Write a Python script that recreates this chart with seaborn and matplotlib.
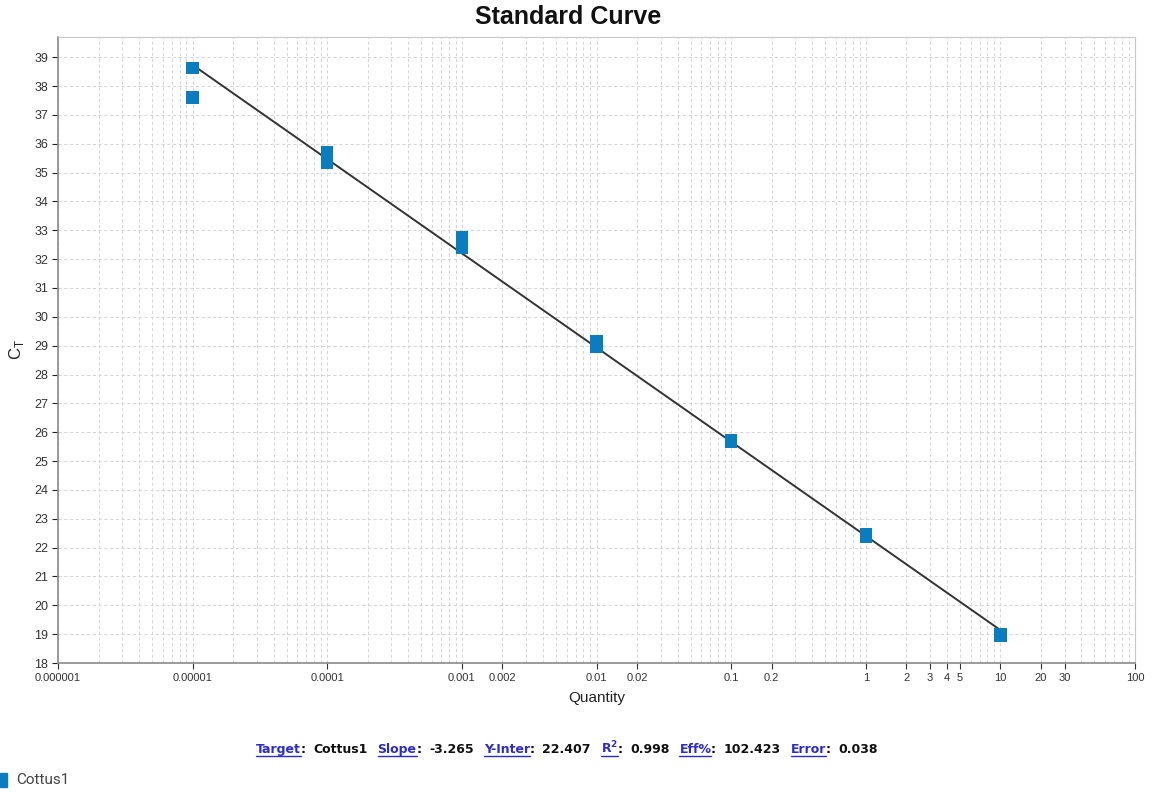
import numpy as np
import pandas as pd
import matplotlib
matplotlib.use("Agg")
import matplotlib.pyplot as plt
import seaborn as sns
from matplotlib.ticker import FixedLocator, FixedFormatter, LogLocator, NullFormatter

# Standard dilution series (replicate Ct values per quantity)
quantities = [1e-5, 1e-5, 1e-4, 1e-4, 1e-4, 1e-3, 1e-3, 1e-2, 1e-2, 1e-1, 1e-1, 1.0, 1.0, 10.0, 10.0]
ct_values = [38.62, 37.61, 35.70, 35.52, 35.35, 32.75, 32.40, 29.17, 28.97, 25.72, 25.66, 22.46, 22.38, 19.00, 18.95]
target_name = "Cottus1"

# Fit statistics
slope = -3.265
y_intercept = 22.407
r_squared = 0.998
efficiency = 102.423
fit_error = 0.038

x_tick_values = [1e-6, 1e-5, 1e-4, 1e-3, 2e-3, 1e-2, 2e-2, 1e-1, 2e-1, 1, 2, 3, 4, 5, 10, 20, 30, 100]
x_tick_labels = ["0.000001", "0.00001", "0.0001", "0.001", "0.002", "0.01", "0.02", "0.1", "0.2",
                 "1", "2", "3", "4", "5", "10", "20", "30", "100"]
y_tick_values = list(range(18, 40))

sns.set_theme(style="white")
plt.rcParams["font.family"] = ["Liberation Sans", "DejaVu Sans"]
plt.rcParams["mathtext.fontset"] = "custom"
plt.rcParams["mathtext.rm"] = "Liberation Sans"
plt.rcParams["mathtext.bf"] = "DejaVu Sans:bold"

W, H = 1154, 796
fig = plt.figure(figsize=(W / 100, H / 100), dpi=100)
ax = fig.add_axes([58 / W, 1 - 663 / H, (1135 - 58) / W, (663 - 37) / H])

points = pd.DataFrame({"Quantity": quantities, "Ct": ct_values, "Target": target_name})
marker_color = "#0a7dc0"

# Regression line across the standards
fit_x = np.array([min(quantities), max(quantities)])
fit = pd.DataFrame({"Quantity": fit_x, "Ct": slope * np.log10(fit_x) + y_intercept})
sns.lineplot(data=fit, x="Quantity", y="Ct", ax=ax, color="#333333", linewidth=1.4, zorder=3)

sns.scatterplot(data=points, x="Quantity", y="Ct", ax=ax, marker="s", s=80,
                color=marker_color, edgecolor="none", linewidth=0, zorder=4, legend=False)

ax.set_xscale("log")
ax.set_xlim(1e-6, 100)
ax.set_ylim(18, 39.7)

ax.xaxis.set_major_locator(FixedLocator(x_tick_values))
ax.xaxis.set_major_formatter(FixedFormatter(x_tick_labels))
ax.xaxis.set_minor_locator(LogLocator(base=10, subs=np.arange(1, 10)))
ax.xaxis.set_minor_formatter(NullFormatter())
ax.set_yticks(y_tick_values)

grid_kw = dict(color="#d6d6d6", linestyle=(0, (3, 2.5)), linewidth=0.75)
ax.grid(True, which="minor", axis="x", **grid_kw)
ax.grid(True, which="major", axis="both", **grid_kw)
ax.set_axisbelow(True)

ax.tick_params(axis="x", which="major", labelsize=8, colors="#333333", length=4, width=0.8,
               direction="out", bottom=True, pad=3)
ax.tick_params(axis="x", which="minor", length=0)
ax.tick_params(axis="y", which="major", labelsize=9, colors="#222222", length=4, width=0.8,
               direction="out", left=True, pad=3)
for lab in ax.get_xticklabels() + ax.get_yticklabels():
    lab.set_color("#333333")

for side in ["top", "right"]:
    ax.spines[side].set_color("#c8c8c8")
    ax.spines[side].set_linewidth(0.8)
for side in ["left", "bottom"]:
    ax.spines[side].set_color("#8a8a8a")
    ax.spines[side].set_linewidth(1.2)

ax.set_xlabel("Quantity", fontsize=11, color="#222222", labelpad=6)
ax.set_ylabel(r"C$_{\mathrm{T}}$", fontsize=12, color="#222222", labelpad=6)
fig.text(568 / W, (H - 17) / H, "Standard Curve", fontsize=18, fontweight="bold",
         color="#111111", ha="center", va="center")

# Fit summary line with underlined field names
fig.canvas.draw()
renderer = fig.canvas.get_renderer()
link_color = "#2b2bd6"
pieces = [
    ("Target", link_color, True), (": ", "#111111", False), (target_name, "#111111", False),
    ("Slope", link_color, True), (": ", "#111111", False), (f"{slope:.3f}", "#111111", False),
    ("Y-Inter", link_color, True), (": ", "#111111", False), (f"{y_intercept:.3f}", "#111111", False),
    (r"R$^\mathbf{2}$", link_color, True), (": ", "#111111", False), (f"{r_squared:.3f}", "#111111", False),
    ("Eff%", link_color, True), (": ", "#111111", False), (f"{efficiency:.3f}", "#111111", False),
    ("Error", link_color, True), (": ", "#111111", False), (f"{fit_error:.3f}", "#111111", False),
]
x_px = 256
y_px = H - 753
for i, (txt, col, underline) in enumerate(pieces):
    t = fig.text(x_px / W, y_px / H, txt, fontsize=9, fontweight="bold", color=col,
                 ha="left", va="baseline", family="DejaVu Sans")
    bb = t.get_window_extent(renderer)
    if underline:
        fig.add_artist(plt.Line2D([bb.x0 / W, bb.x1 / W], [(y_px - 2.5) / H, (y_px - 2.5) / H],
                                  color=col, linewidth=1.0))
    gap = 3 if txt == ": " else 10
    if underline:
        gap = 0
    x_px = bb.x1 + gap

# Legend entry for the target
fig.patches.append(matplotlib.patches.Rectangle((0, (H - 787) / H), 7 / W, 14 / H,
                                                transform=fig.transFigure, color=marker_color))
fig.text(16 / W, (H - 780) / H, target_name, fontsize=11, color="#444444", ha="left",
         va="center", family="Roboto")

fig.savefig("out.png", dpi=100)
